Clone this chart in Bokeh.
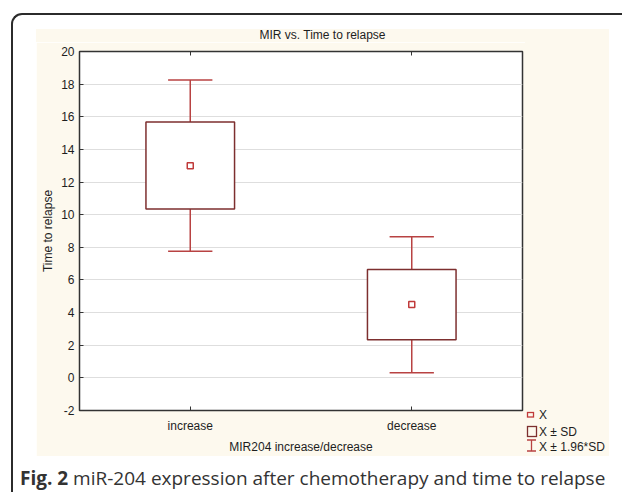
from bokeh.plotting import figure
from bokeh.models import (ColumnDataSource, FactorRange, Range1d, CategoricalAxis, FixedTicker, Div)
from bokeh.layouts import column, row
from bokeh.transform import dodge
from bokeh.embed import file_html
from bokeh.resources import INLINE

# ---- data ----
categories = ["increase", "decrease"]
means = [13.0, 4.5]
sd_low = [10.35, 2.34]
sd_high = [15.68, 6.64]
ci_low = [7.76, 0.31]
ci_high = [18.26, 8.64]
y_ticks = [-2, 0, 2, 4, 6, 8, 10, 12, 14, 16, 18, 20]
y_tick_labels = ["-2", "0", "2", "4", "6", "8", "10", "12", "14", "16", "18", "20"]

title_text = "MIR vs. Time to relapse"
x_label = "MIR204 increase/decrease"
y_label = "Time to relapse"
legend_labels = ["X", "X \u00b1 SD", "X \u00b1 1.96*SD"]
caption_bold = "Fig. 2"
caption_rest = "miR-204 expression after chemotherapy and time to relapse"

FONT = "Liberation Sans"
BOX_C = "#7d2f2f"
WHISK_C = "#b84242"
MEAN_C = "#c03a3a"
TXT_C = "#1e1e1e"
CREAM = "#fdf9ee"

PH = 414  # height of the plot figure (below the title strip)
p = figure(width=489, height=PH, x_range=FactorRange(*categories), y_range=Range1d(-2, 20),
           output_backend="svg", toolbar_location=None,
           min_border_left=43, min_border_right=3, min_border_top=9, min_border_bottom=45)
p.background_fill_color = "white"
p.border_fill_color = CREAM
p.outline_line_color = "#333333"
p.outline_line_width = 1.5

# axes
p.yaxis.ticker = FixedTicker(ticks=y_ticks)
p.yaxis.major_label_overrides = dict(zip(y_ticks, y_tick_labels))
for ax in [p.xaxis[0], p.yaxis[0]]:
    ax.major_tick_in = 4
    ax.major_tick_out = 0
    ax.minor_tick_line_color = None
    ax.axis_line_color = "#333333"
    ax.major_tick_line_color = "#333333"
    ax.major_label_text_font = FONT
    ax.major_label_text_font_size = "12px"
    ax.major_label_text_color = TXT_C
    ax.axis_label_text_font = FONT
    ax.axis_label_text_font_size = "12px"
    ax.axis_label_text_font_style = "normal"
    ax.axis_label_text_color = TXT_C
p.yaxis.axis_label = y_label
p.xaxis.axis_label = x_label
p.yaxis.major_label_standoff = 5
p.yaxis.axis_label_standoff = 3
p.xaxis.major_label_standoff = 8
p.xaxis.axis_label_standoff = 4

# top axis: inward tick marks only, no visible labels
top_ax = CategoricalAxis(major_label_text_font_size="1px", major_label_text_color=None,
                         major_label_standoff=0,
                         major_tick_in=4, major_tick_out=0,
                         axis_line_color="#333333", major_tick_line_color="#333333",
                         minor_tick_line_color=None)
p.add_layout(top_ax, "above")

p.xgrid.visible = False
p.ygrid.ticker = FixedTicker(ticks=y_ticks)
p.ygrid.grid_line_color = "#dedede"
p.ygrid.grid_line_width = 1

# ---- data glyphs ----
src = ColumnDataSource(dict(cat=categories, mean=means, sd_low=sd_low, sd_high=sd_high,
                            ci_low=ci_low, ci_high=ci_high))
p.segment(x0="cat", y0="sd_high", x1="cat", y1="ci_high", source=src,
          line_color=WHISK_C, line_width=1.5)
p.segment(x0="cat", y0="sd_low", x1="cat", y1="ci_low", source=src,
          line_color=WHISK_C, line_width=1.5)
p.segment(x0=dodge("cat", -0.1, range=p.x_range), y0="ci_high",
          x1=dodge("cat", 0.1, range=p.x_range), y1="ci_high", source=src,
          line_color=WHISK_C, line_width=1.5)
p.segment(x0=dodge("cat", -0.1, range=p.x_range), y0="ci_low",
          x1=dodge("cat", 0.1, range=p.x_range), y1="ci_low", source=src,
          line_color=WHISK_C, line_width=1.5)
p.vbar(x="cat", top="sd_high", bottom="sd_low", width=0.4, source=src,
       fill_color="white", line_color=BOX_C, line_width=1.5)
p.scatter(x="cat", y="mean", marker="square", size=6, source=src,
          fill_color=None, line_color=MEAN_C, line_width=1.5)

# ---- title strip ----
title_div = Div(text=title_text, width=573, height=13, margin=(0, 0, 0, 0),
                styles={"font-family": "'Liberation Sans'", "font-size": "12px",
                        "color": TXT_C, "text-align": "center", "line-height": "13px",
                        "background-color": CREAM, "white-space": "nowrap"})

# ---- legend (symbols drawn as a small svg, texts as real text) ----
leg_svg = (
    f'<div style="height:{PH - 51}px"></div>'
    '<svg width="84" height="52" xmlns="http://www.w3.org/2000/svg" '
    'style="display:block;font-family:\'Liberation Sans\';font-size:12px">'
    f'<rect x="2.5" y="7.5" width="6" height="4.5" fill="none" stroke="{MEAN_C}" stroke-width="1.3"/>'
    f'<text x="14" y="14" fill="{TXT_C}">{legend_labels[0]}</text>'
    f'<rect x="2.5" y="21.5" width="9" height="10" fill="none" stroke="{BOX_C}" stroke-width="1.3"/>'
    f'<text x="14" y="31" fill="{TXT_C}">{legend_labels[1]}</text>'
    f'<path d="M2 35H11M6.5 35V46M2 46H11" fill="none" stroke="{WHISK_C}" stroke-width="1.3"/>'
    f'<text x="14" y="46" fill="{TXT_C}">{legend_labels[2]}</text>'
    '</svg>'
)
leg_div = Div(text=leg_svg, width=84, height=PH, margin=(0, 0, 0, 0),
              styles={"background-color": CREAM})

cap_div = Div(text=f'<span style="font-weight:700">{caption_bold}</span> {caption_rest}',
              width=596, height=28, margin=(8, 0, 0, 7),
              styles={"font-family": "'Open Sans'", "font-size": "19px", "color": "#333333",
                      "line-height": "28px", "white-space": "nowrap"})

panel = column(title_div, row(p, leg_div), margin=(14, 13, 0, 23))
card = column(panel, cap_div, margin=(13, 0, 0, 11),
              styles={"border-left": "2px solid #2b2b2b", "border-top": "2px solid #2b2b2b",
                      "border-top-left-radius": "11px", "background-color": "white"})
root = column(card)

open("out.html", "w").write(file_html(root, INLINE))
